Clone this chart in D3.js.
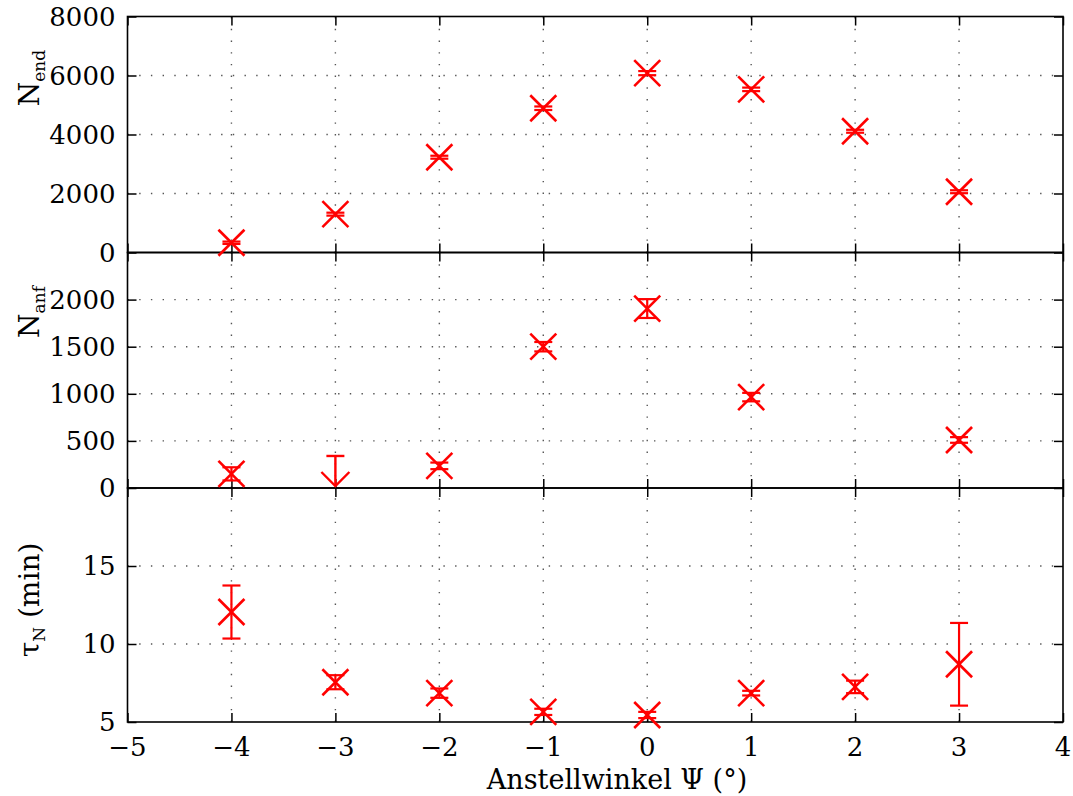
<!DOCTYPE html>
<html>
<head>
<meta charset="utf-8">
<script src="https://cdn.jsdelivr.net/npm/d3@7"></script>
<style>
  html, body { margin: 0; padding: 0; background: #fff; }
  svg { display: block; }
</style>
</head>
<body>
<svg id="chart" width="1073" height="796"></svg>
<script>
// Angle of attack (degrees)
const angles = [-4, -3, -2, -1, 0, 1, 2, 3];

// N_end: final count with uncertainty
const nEnd    = [330, 1300, 3230, 4890, 6080, 5530, 4110, 2060];
const nEndErr = [40, 50, 50, 60, 70, 60, 50, 50];

// N_anf: initial count (no value at +2)
const nAnfAngles = [-4, -2, -1, 0, 1, 3];
const nAnf       = [150, 235, 1500, 1905, 965, 510];
const nAnfErr    = [70, 35, 50, 100, 45, 30];
// upper limit only at -3
const nAnfLimitAngle = [-3];
const nAnfLimitUpper = [340];

// tau_N in minutes
const tau    = [12.05, 7.55, 6.85, 5.65, 5.45, 6.85, 7.25, 8.7];
const tauErr = [1.7, 0.45, 0.3, 0.2, 0.2, 0.15, 0.4, 2.65];

// tick values
const xTicks    = [-5, -4, -3, -2, -1, 0, 1, 2, 3, 4];
const xGrid     = [-4, -3, -2, -1, 0, 1, 2, 3];
const nEndTicks = [0, 2000, 4000, 6000, 8000];
const nAnfTicks = [0, 500, 1000, 1500, 2000];
const tauTicks  = [5, 10, 15];

const FONT = "DejaVu Serif, serif";
const svg = d3.select("#chart").attr("font-family", FONT);
const left = 127.5, right = 1063;
const tickFont = 26, labelFont = 28, subFont = 17;
const red = "#ff0000";

const x = d3.scaleLinear().domain([-5, 4]).range([left, right]);

const panels = [
  { top: 16.5, bottom: 252.5, domain: [0, 8000], ticks: nEndTicks, labelY: 78, sub: "end", main: "N" },
  { top: 252.5, bottom: 488, domain: [0, 2500], ticks: nAnfTicks, labelY: 312, sub: "anf", main: "N" },
  { top: 488, bottom: 722, domain: [5, 20], ticks: tauTicks, labelY: 600, sub: "N", main: "τ", tail: " (min)" }
];
panels.forEach(p => { p.y = d3.scaleLinear().domain(p.domain).range([p.bottom, p.top]); });

// grid (dotted)
panels.forEach(p => {
  const g = svg.append("g").attr("stroke", "#555").attr("stroke-width", 1.4)
    .attr("stroke-dasharray", "1.4,10.3").attr("fill", "none");
  g.selectAll("line.v").data(xGrid).join("line")
    .attr("x1", d => x(d)).attr("x2", d => x(d))
    .attr("y1", p.bottom).attr("y2", p.top);
  g.selectAll("line.h").data(p.ticks.filter(t => p.y(t) > p.top + 1 && p.y(t) < p.bottom - 1)).join("line")
    .attr("x1", left).attr("x2", right)
    .attr("y1", d => p.y(d)).attr("y2", d => p.y(d));
});

// axes: inward ticks on all four sides, via d3 axis generators
panels.forEach((p, i) => {
  const tl = 9;
  const axL = svg.append("g").attr("transform", `translate(${left},0)`)
    .call(d3.axisRight(p.y).tickValues(p.ticks).tickSize(tl).tickFormat(""));
  const axR = svg.append("g").attr("transform", `translate(${right},0)`)
    .call(d3.axisLeft(p.y).tickValues(p.ticks).tickSize(tl).tickFormat(""));
  const axB = svg.append("g").attr("transform", `translate(0,${p.bottom})`)
    .call(d3.axisTop(x).tickValues(xTicks).tickSize(tl).tickFormat(""));
  const axT = svg.append("g").attr("transform", `translate(0,${p.top})`)
    .call(d3.axisBottom(x).tickValues(xTicks).tickSize(tl).tickFormat(""));
  [axL, axR, axB, axT].forEach(a => {
    a.select(".domain").remove();
    a.selectAll("line").attr("stroke", "#000").attr("stroke-width", 1.5);
  });

  // y tick labels
  svg.append("g").selectAll("text").data(p.ticks).join("text")
    .attr("x", left - 12).attr("y", d => p.y(d) + tickFont * 0.36)
    .attr("text-anchor", "end")
    .attr("font-family", FONT)
    .style("font-size", tickFont + "px")
    .text(d => d);

  // frame
  svg.append("rect").attr("x", left).attr("y", p.top)
    .attr("width", right - left).attr("height", p.bottom - p.top)
    .attr("fill", "none").attr("stroke", "#000").attr("stroke-width", 1.6);

  // y label, rotated, with subscript
  const t = svg.append("text")
    .attr("transform", `translate(39,${p.labelY}) rotate(-90)`)
    .attr("text-anchor", "middle")
    .attr("font-family", FONT)
    .style("font-size", labelFont + "px");
  t.append("tspan").text(p.main);
  t.append("tspan").attr("dy", 6).style("font-size", subFont + "px").text(p.sub);
  if (p.tail) t.append("tspan").attr("dy", -6).text(p.tail);
});

// x tick labels
svg.append("g").selectAll("text").data(xTicks).join("text")
  .attr("x", d => x(d)).attr("y", 756)
  .attr("text-anchor", "middle")
  .attr("font-family", FONT)
  .style("font-size", tickFont + "px")
  .text(d => d < 0 ? "\u2212" + Math.abs(d) : d);

// x label
svg.append("text").attr("x", 617).attr("y", 789)
  .attr("text-anchor", "middle")
  .attr("font-family", FONT)
  .style("font-size", "27px")
  .text("Anstellwinkel \u03A8 (\u00B0)");

// error bar + x-marker helper
function drawPoints(yScale, xs, ys, errs) {
  const g = svg.append("g").attr("stroke", red).attr("fill", "none");
  const cap = 9, m = 13;
  const pts = xs.map((d, i) => ({ x: d, y: ys[i], e: errs[i] }));
  pts.forEach(pt => {
    const cx = x(pt.x), cy = yScale(pt.y), y0 = yScale(pt.y - pt.e), y1 = yScale(pt.y + pt.e);
    g.append("line").attr("x1", cx).attr("x2", cx).attr("y1", y0).attr("y2", y1).attr("stroke-width", 2.2);
    g.append("line").attr("x1", cx - cap).attr("x2", cx + cap).attr("y1", y0).attr("y2", y0).attr("stroke-width", 2.2);
    g.append("line").attr("x1", cx - cap).attr("x2", cx + cap).attr("y1", y1).attr("y2", y1).attr("stroke-width", 2.2);
    g.append("line").attr("x1", cx - m).attr("x2", cx + m).attr("y1", cy - m).attr("y2", cy + m).attr("stroke-width", 2.6);
    g.append("line").attr("x1", cx - m).attr("x2", cx + m).attr("y1", cy + m).attr("y2", cy - m).attr("stroke-width", 2.6);
  });
}

drawPoints(panels[0].y, angles, nEnd, nEndErr);
drawPoints(panels[1].y, nAnfAngles, nAnf, nAnfErr);
drawPoints(panels[2].y, angles, tau, tauErr);

// upper-limit arrow for N_anf
{
  const yS = panels[1].y;
  const g = svg.append("g").attr("stroke", red).attr("fill", "none").attr("stroke-width", 2.4);
  nAnfLimitAngle.forEach((a, i) => {
    const cx = x(a), yTop = yS(nAnfLimitUpper[i]), yBot = yS(0) - 2;
    g.append("line").attr("x1", cx).attr("x2", cx).attr("y1", yTop).attr("y2", yBot);
    g.append("line").attr("x1", cx - 9).attr("x2", cx + 9).attr("y1", yTop).attr("y2", yTop);
    g.append("polyline").attr("points", `${cx - 14},${yBot - 14} ${cx},${yBot} ${cx + 14},${yBot - 14}`);
  });
}
</script>
</body>
</html>
